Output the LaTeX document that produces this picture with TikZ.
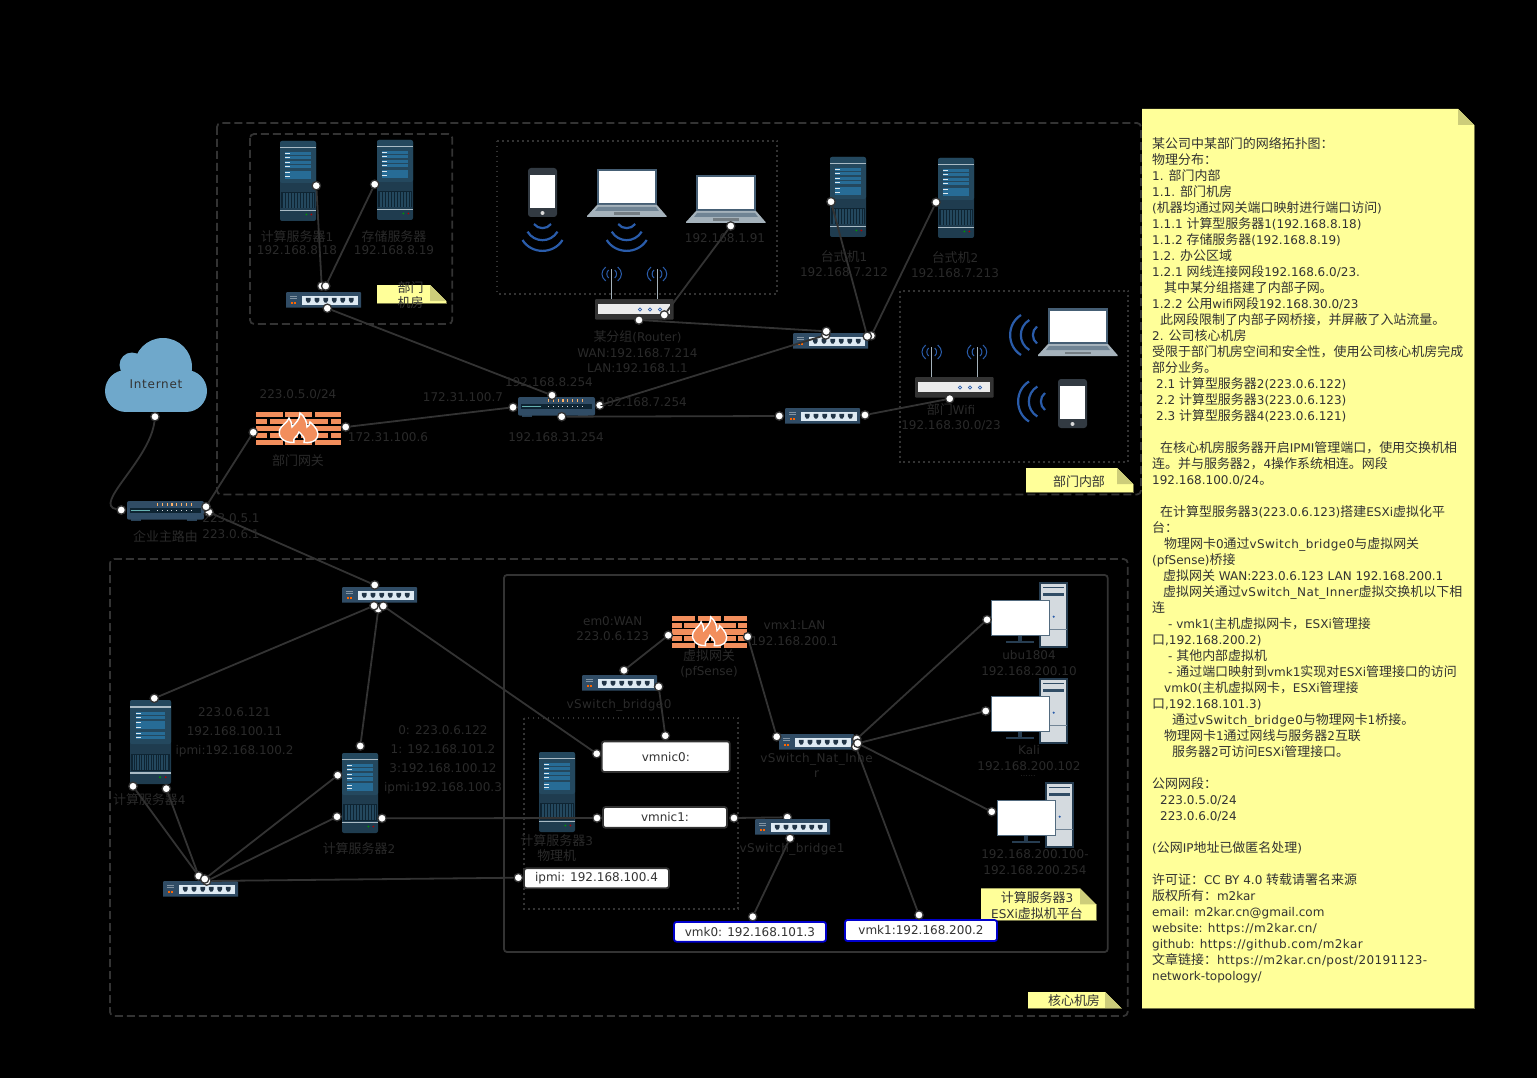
\documentclass[tikz,border=0pt]{standalone}
\usepackage{fontspec}
\setmainfont{DejaVu Sans}
\newfontfamily\cjkf[Scale=1.08]{Noto Sans CJK SC}
\XeTeXinterchartokenstate=1
\newXeTeXintercharclass\cjkclass
\newcount\cjkcnt
\cjkcnt="4E00 \loop\XeTeXcharclass\cjkcnt=\cjkclass \advance\cjkcnt by 1 \ifnum\cjkcnt<"A000 \repeat
\cjkcnt="3000 \loop\XeTeXcharclass\cjkcnt=\cjkclass \advance\cjkcnt by 1 \ifnum\cjkcnt<"3040 \repeat
\cjkcnt="FF00 \loop\XeTeXcharclass\cjkcnt=\cjkclass \advance\cjkcnt by 1 \ifnum\cjkcnt<"FFF0 \repeat
\XeTeXinterchartoks 0 \cjkclass={\cjkf}
\XeTeXinterchartoks 4095 \cjkclass={\cjkf}
\XeTeXinterchartoks \cjkclass 0={\rmfamily}
\XeTeXinterchartoks \cjkclass 4095={\rmfamily}
\normallineskiplimit=-20pt
\lineskiplimit=-20pt
\newcommand{\ls}[1]{{\addfontfeature{LetterSpace=3.5}#1}}
\usepackage{tikz}
\definecolor{inkgrey}{RGB}{51,51,51}
\definecolor{dimgrey}{RGB}{42,42,42}
\definecolor{notefill}{RGB}{255,255,153}
\definecolor{notefold}{RGB}{205,205,122}
\definecolor{srvbody}{RGB}{31,60,79}
\definecolor{srvtop}{RGB}{36,72,94}
\definecolor{srvbar}{RGB}{39,108,150}
\definecolor{srvgrille}{RGB}{14,36,50}
\definecolor{srvline}{RGB}{170,187,197}
\definecolor{swbody}{RGB}{48,76,101}
\definecolor{swpanel}{RGB}{222,234,243}
\definecolor{brick}{RGB}{242,142,92}
\definecolor{wavesblue}{RGB}{42,92,170}
\definecolor{cloudblue}{RGB}{111,168,203}
\definecolor{kbgrey}{RGB}{165,178,187}
\definecolor{pcgrey}{RGB}{212,218,223}
\newcommand{\stickynote}[5]{
    \fill[notefill] (#1,#2) -- ({#3-#5},#2) -- (#3,{#2+#5}) -- (#3,#4) -- (#1,#4) -- cycle;
    \fill[notefold] ({#3-#5},#2) -- (#3,{#2+#5}) -- ({#3-#5},{#2+#5}) -- cycle;
    \draw[notefill!45!black, line width=.8] (#3,{#2+#5}) -- (#3,#4) -- (#1,#4);
}
\tikzset{
    server/.pic={
        \fill[srvbody, rounded corners=2] (0,0) rectangle (36,80);
        \fill[srvtop, rounded corners=2] (0,0) rectangle (36,42);
        \fill[srvline] (0,6) rectangle (36,7.3);
        \foreach \barY in {11,14.9,20,24.1,30.3,34.2} {
            \fill[srvbar] (5,\barY) rectangle (31,\barY+3.4);
            \fill[white!85!srvbar] (5,\barY+1.2) rectangle (10,\barY+2.2);
        }
        \fill[srvgrille] (1,51) rectangle (35,67.5);
        \foreach \barX in {3,4.5,...,33}
            \draw[srvtop, line width=.5] (\barX,52) -- (\barX,67);
        \fill[srvline] (0,68.7) rectangle (36,70);
        \fill[green!60!black] (26.3,73.5) circle (1);
        \fill[red!70!black] (31.3,73.5) circle (1);
    },
    netswitch/.pic={
        \fill[swbody] (0,1) -- (1,0) -- (74,0) -- (75,1) -- (75,15.5) -- (0,15.5) -- cycle;
        \fill[swpanel] (16.3,4.3) rectangle (71.7,12.7);
        \foreach \portX in {22.3,31,39.7,48.3,56.7,65.3}
            \fill[swbody!70!black] (\portX-2.4,5.8) -- (\portX+2.4,5.8) -- (\portX+2.4,8.3) -- (\portX+1,10.6) -- (\portX-1,10.6) -- (\portX-2.4,8.3) -- cycle;
        \fill[orange!80!red] (4.8,10) rectangle (6.6,11.6);
        \fill[orange!80!red] (8.4,10) rectangle (10.2,11.6);
        \draw[white!40!swbody, line width=.4] (4,4.5) -- (11,4.5) (4,6.5) -- (11,6.5);
    },
    rackrouter/.pic={
        \fill[swbody!85!black] (4,18) rectangle (14,19.5);
        \fill[swbody!85!black] (60,18) rectangle (70,19.5);
        \fill[swbody, rounded corners=2] (0,0) rectangle (77,18.7);
        \fill[srvgrille] (3,7.3) rectangle (74,12);
        \fill[teal!60!white] (4,9.2) rectangle (23,10.2);
        \foreach \tickX in {30,34.8,...,65} {
            \fill[orange!60!white] (\tickX,1.5) rectangle (\tickX+1.2,4.6);
            \fill[white!80!swbody] (\tickX,9.2) rectangle (\tickX+1,10.2);
        }
    },
    brickwall/.pic={
        \foreach \rowY in {0,13.8,27.6} {
            \fill[brick] (0,\rowY) rectangle (26.5,\rowY+5.4);
            \fill[brick] (29,\rowY) rectangle (56,\rowY+5.4);
            \fill[brick] (58.5,\rowY) rectangle (85,\rowY+5.4);
        }
        \foreach \rowY in {6.9,20.7} {
            \fill[brick] (0,\rowY) rectangle (11,\rowY+5.4);
            \fill[brick] (14,\rowY) rectangle (42,\rowY+5.4);
            \fill[brick] (44.5,\rowY) rectangle (72,\rowY+5.4);
            \fill[brick] (74.5,\rowY) rectangle (85,\rowY+5.4);
        }
        \fill[brick, draw=white, line width=1.4] (38,30.5) .. controls (28,31) and (21,25) .. (24,17) .. controls (26,13) and (31,11) .. (33,6) .. controls (35,9) and (36,12) .. (36,15) .. controls (40,11) and (44,7) .. (44,1) .. controls (49,5) and (51,10) .. (51,15) .. controls (53,14) and (54,12) .. (54,10) .. controls (60,15) and (64,21) .. (61,26) .. controls (59,30) and (53,31) .. (48,30.5) .. controls (50,26) and (46,23) .. (43,20) .. controls (42,24) and (36,26) .. (38,30.5) -- cycle;
    },
    wifirouter/.pic={
        \foreach \antX in {16.7,62} {
            \draw[kbgrey, line width=1] (\antX,0) -- (\antX,-30);
            \draw[wavesblue, line width=1]
                (\antX-3,-29) .. controls (\antX-5.5,-27) and (\antX-5.5,-23) .. (\antX-3,-21)
                (\antX+3,-29) .. controls (\antX+5.5,-27) and (\antX+5.5,-23) .. (\antX+3,-21)
                (\antX-6,-32) .. controls (\antX-11,-28) and (\antX-11,-22) .. (\antX-6,-18)
                (\antX+6,-32) .. controls (\antX+11,-28) and (\antX+11,-22) .. (\antX+6,-18);
        }
        \fill[inkgrey, rounded corners=1] (0,0) rectangle (78.7,20.7);
        \fill[white!92!black] (3.3,5.3) rectangle (75.3,15.3);
        \foreach \dotX in {45,55,65}
            \draw[wavesblue, line width=.8] (\dotX,10.5) circle (1.6);
    },
    laptop/.pic={
        \fill[swbody!90!white] (10,0) rectangle (70,36);
        \fill[white] (12,2.5) rectangle (68,34);
        \fill[kbgrey] (10,36) -- (70,36) -- (79.5,47) -- (79.5,48) -- (0,48) -- (0,47) -- cycle;
        \fill[swbody!45!kbgrey] (11,38) -- (69,38) -- (72,42) -- (8,42) -- cycle;
        \fill[kbgrey!70!black] (27,43.5) rectangle (53,46);
    },
    handset/.pic={
        \fill[inkgrey!70!swbody, rounded corners=3] (0,0) rectangle (29,49);
        \fill[white] (2,7) rectangle (27,40);
        \fill[white!85!black] (14.5,45) circle (2);
    },
    wifiwaves/.pic={
        \draw[wavesblue, line width=2.2]
            (-8.5,1) .. controls (-4.5,6.5) and (4.5,6.5) .. (8.5,1)
            (-15,8.7) .. controls (-8,20) and (8,20) .. (15,8.7)
            (-20,17) .. controls (-11,31.5) and (11,31.5) .. (20,17);
    },
    desktoppc/.pic={
        \fill[pcgrey, draw=swbody!80!black, line width=1.2] (49,0) rectangle (76,64);
        \draw[swbody, line width=.8] (52,4.5) -- (73,4.5);
        \fill[swbody] (52,10) rectangle (73,13);
        \draw[swbody!60!pcgrey, line width=.6] (49,46) -- (76,46);
        \fill[wavesblue] (62.7,33.7) circle (1.2);
        \fill[swbody!80!black] (26.5,52.7) rectangle (31,58);
        \fill[swbody!80!black] (15,58) rectangle (43,59.5);
        \fill[white, draw=swbody!70!kbgrey, line width=1] (0,17.3) rectangle (58,52.7);
    }
}
\begin{document}
\begin{tikzpicture}[
            x=1pt, y=-1pt,
            lbl/.style={inner sep=0, align=center, text=dimgrey, font=\fontsize{12}{15.6}\selectfont},
            darklbl/.style={lbl, text=inkgrey},
            tightlbl/.style={lbl, font=\fontsize{12}{13}\selectfont},
            widelbl/.style={lbl, font=\fontsize{12}{19}\selectfont},
            port/.style={circle, fill=white, draw=inkgrey, line width=1.3, minimum size=8.4, inner sep=0},
            link/.style={draw=inkgrey, line width=1.8},
            dashframe/.style={draw=inkgrey, line width=1.8, dash pattern=on 8pt off 4pt, rounded corners=4},
            dotframe/.style={draw=inkgrey, line width=1.8, dash pattern=on 1.8pt off 3.2pt},
            nicbox/.style={draw=inkgrey, fill=white, line width=1.8, rounded corners=2.5, inner sep=0, anchor=center, text=inkgrey, font=\fontsize{12}{14}\selectfont},
            vmkbox/.style={nicbox, draw=blue!80!black}
        ]
            \useasboundingbox (0,0) rectangle (1537,1078);
            \fill[black] (0,0) rectangle (1537,1078);

            % frames
            \draw[dashframe] (217,123) rectangle (1141,494.5);
            \draw[dashframe] (250,134) rectangle (452.3,324);
            \draw[dotframe] (497,140.7) rectangle (777.3,293.7);
            \draw[dotframe] (900,290.7) rectangle (1128.3,462.3);
            \draw[dashframe] (110,559) rectangle (1127.7,1016);
            \draw[inkgrey, line width=1.8, rounded corners=3] (504,575) rectangle (1107.7,952);
            \draw[dotframe] (524.3,717.7) rectangle (738,909);

            % notes
            \stickynote{1142}{109}{1474}{1008}{16}
            \stickynote{377}{285}{446}{303.7}{16}
            \stickynote{1026}{468}{1133}{492}{16}
            \stickynote{1028}{992}{1121}{1008.3}{16}
            \stickynote{981}{888.3}{1096}{920.7}{16}

            % cloud
            \fill[cloudblue] (163,367) circle (29);
            \fill[cloudblue] (132,365) circle (12.5);
            \fill[cloudblue] (126,391) circle (21);
            \fill[cloudblue] (186,391) circle (21);
            \fill[cloudblue] (126,372) rectangle (186,412);

            \node[port] (bronetop) at (787.3,817.3) {};
            \node[port] (swonehid) at (321.7,286) {};

            % devices
            \pic (srvone) at (280,141) {server};
            \pic (srvstore) at (377,140) {server};
            \pic (pcone) at (830,157) {server};
            \pic (pctwo) at (938,158) {server};
            \pic[xscale=1.14, yscale=1.05] (srvfour) at (130,700) {server};
            \pic (srvtwo) at (342,753) {server};
            \pic (srvthree) at (539,752) {server};

            \pic (swone) at (286,292) {netswitch};
            \pic (swtwo) at (793,333) {netswitch};
            \pic (swthree) at (785,408) {netswitch};
            \pic (swcore) at (342,587) {netswitch};
            \pic (swipmi) at (163,881) {netswitch};
            \pic (brzero) at (582,675) {netswitch};
            \pic (swnat) at (779,734) {netswitch};
            \pic (brone) at (755,819) {netswitch};

            \pic (rtmain) at (127,501) {rackrouter};
            \pic (rtdept) at (518,397) {rackrouter};
            \pic (fwdept) at (256,412) {brickwall};
            \pic[xscale=.882, yscale=.97] (fwvirt) at (672,616) {brickwall};
            \pic (wrgroup) at (595,299) {wifirouter};
            \pic (wrdept) at (915,377) {wifirouter};

            \pic (lapone) at (587,169) {laptop};
            \pic (laptwo) at (686,175) {laptop};
            \pic (lapthree) at (1038,308) {laptop};
            \pic (phoneone) at (528,168) {handset};
            \pic (phonetwo) at (1058,379) {handset};
            \pic at (542.5,223) {wifiwaves};
            \pic at (626.7,223) {wifiwaves};
            \pic[rotate=-90] at (1038,335) {wifiwaves};
            \pic[rotate=-90] at (1046,401.5) {wifiwaves};

            \pic (vmone) at (991,583) {desktoppc};
            \pic (vmtwo) at (991,679) {desktoppc};
            \pic (vmthree) at (997,783) {desktoppc};

            % boxes
            \node[nicbox, minimum width=128, minimum height=30.7] (vmniczero) at (665.8,756.7) {vmnic0:};
            \node[nicbox, minimum width=124, minimum height=20.7] (vmnicone) at (665,817.4) {vmnic1:};
            \node[nicbox, minimum width=145, minimum height=20] (ipmibox) at (596.5,878.3) {ipmi: 192.168.100.4};
            \node[vmkbox, minimum width=152, minimum height=19.7] (vmkzero) at (750,931.8) {vmk0: 192.168.101.3};
            \node[vmkbox, minimum width=152, minimum height=21] (vmkone) at (921,930.5) {vmk1:192.168.200.2};

            % ports
            \node[port] (srvoneR) at (316.3,185.7) {};
            \node[port] (srvstoreL) at (374.7,184.3) {};
            \node[port] (swonetop) at (325.7,286) {};
            \node[port] (swonebot) at (327.3,308.3) {};
            \node[port] (rtdeptT) at (552,395.3) {};
            \node[port] (rtdeptL) at (513,407.3) {};
            \node[port] (rtdeptR) at (599.7,405.3) {};
            \node[port] (rtdeptB) at (561.7,416.7) {};
            \node[port] (fwdeptL) at (253.3,432.3) {};
            \node[port] (fwdeptR) at (345.7,427) {};
            \node[port] (wrgroupB) at (639,320) {};
            \node[port] (wrgroupR) at (664.3,315) {};
            \node[port] (laptwoB) at (730.7,226) {};
            \node[port] (swtwoin) at (825.7,335) {};
            \node[port] (swtwotop) at (826.3,331.3) {};
            \node[port] (swtwoout) at (871.3,335.7) {};
            \node[port] (swtwoR) at (867.3,336.3) {};
            \node[port] (pconeL) at (831,201.7) {};
            \node[port] (pctwoL) at (936,202.3) {};
            \node[port] (swthreeL) at (779.3,416) {};
            \node[port] (swthreeR) at (865,415) {};
            \node[port] (wrdeptB) at (949.7,398.7) {};
            \node[port] (cloudB) at (155,416.7) {};
            \node[port] (rtmainL) at (121.3,510) {};
            \node[port] (rtmainlow) at (209,512.3) {};
            \node[port] (rtmainR) at (206,506.7) {};
            \node[port] (swcoreT) at (374.7,585) {};
            \node[port] (swcoremid) at (378.3,609) {};
            \node[port] (swcoreL) at (374,605.7) {};
            \node[port] (swcoreR) at (383.3,606) {};
            \node[port] (srvfourT) at (154.3,698.3) {};
            \node[port] (srvfourA) at (133,786.3) {};
            \node[port] (srvfourB) at (166.3,788.7) {};
            \node[port] (srvtwoT) at (360.3,746) {};
            \node[port] (srvtwoA) at (337.7,775.3) {};
            \node[port] (srvtwoB) at (337,816.7) {};
            \node[port] (srvtwoR) at (382,818.3) {};
            \node[port] (swipmiC) at (206.7,881) {};
            \node[port] (swipmiA) at (198.7,876) {};
            \node[port] (swipmiB) at (204.7,879) {};
            \node[port] (ipmiL) at (518.3,877.7) {};
            \node[port] (vmniczeroL) at (596.7,753.7) {};
            \node[port] (vmniczeroT) at (665.3,735.7) {};
            \node[port] (vmniconeL) at (597,818) {};
            \node[port] (vmniconeR) at (734,818) {};
            \node[port] (broneB) at (790,838.3) {};
            \node[port] (vmkzeroT) at (752.7,916.7) {};
            \node[port] (brzeroT) at (624,670.3) {};
            \node[port] (brzeroR) at (658.7,686.7) {};
            \node[port] (fwvirtL) at (668.3,635.3) {};
            \node[port] (fwvirtR) at (747.7,636.7) {};
            \node[port] (swnatL) at (776.7,736.7) {};
            \node[port] (swnatlow) at (855.7,746.7) {};
            \node[port] (swnatR) at (856.7,739) {};
            \node[port] (swnatM) at (857.7,743.3) {};
            \node[port] (vmoneL) at (987,619.7) {};
            \node[port] (vmtwoL) at (985.7,711) {};
            \node[port] (vmthreeL) at (991.7,811.7) {};
            \node[port] (vmkoneT) at (919,915) {};

            % connectors
            \draw[link] (srvoneR) -- (swonehid);
            \draw[link] (srvstoreL) -- (swonetop);
            \draw[link] (swonebot) -- (rtdeptT);
            \draw[link] (fwdeptR) -- (rtdeptL);
            \draw[link] (rtdeptR) -- (swtwoin);
            \draw[link] (wrgroupB) -- (swtwotop);
            \draw[link] (wrgroupR) -- (laptwoB);
            \draw[link] (rtdeptB) -- (swthreeL);
            \draw[link] (swthreeR) -- (wrdeptB);
            \draw[link] (pconeL) -- (swtwoR);
            \draw[link] (pctwoL) -- (swtwoout);
            \draw[link] (cloudB) .. controls (150,460) and (92,505) .. (rtmainL);
            \draw[link] (rtmainR) -- (fwdeptL);
            \draw[link] (rtmainlow) -- (swcoreT);
            \draw[link] (swcoreL) -- (srvfourT);
            \draw[link] (swcoremid) -- (srvtwoT);
            \draw[link] (swcoreR) -- (vmniczeroL);
            \draw[link] (srvfourA) -- (swipmiA);
            \draw[link] (srvfourB) -- (swipmiA);
            \draw[link] (srvtwoA) -- (swipmiB);
            \draw[link] (srvtwoB) -- (swipmiC);
            \draw[link] (swipmiC) -- (ipmiL);
            \draw[link] (srvtwoR) -- (vmniconeL);
            \draw[link] (vmniconeR) -- (bronetop);
            \draw[link] (broneB) -- (vmkzeroT);
            \draw[link] (brzeroT) -- (fwvirtL);
            \draw[link] (brzeroR) -- (vmniczeroT);
            \draw[link] (fwvirtR) -- (swnatL);
            \draw[link] (swnatR) -- (vmoneL);
            \draw[link] (swnatM) -- (vmtwoL);
            \draw[link] (swnatM) -- (vmthreeL);
            \draw[link] (swnatlow) -- (vmkoneT);

            % labels
            \node[darklbl] (internet) at (156,384) {\addfontfeature{LetterSpace=6}Internet};
            \node[tightlbl] (lblsrvone) at (297,243) {计算服务器1\\192.168.8.18};
            \node[tightlbl] (lblstore) at (394,242.5) {存储服务器\\192.168.8.19};
            \node[lbl] (lbllaptwo) at (725,238) {192.168.1.91};
            \node[lbl] (lblgroup) at (637.5,352) {某分组(Router)\\WAN:192.168.7.214\\LAN:192.168.1.1};
            \node[lbl] (lblrta) at (549,382) {192.168.8.254};
            \node[lbl] (lblrtb) at (463,397) {172.31.100.7};
            \node[lbl] (lblrtc) at (643,402) {192.168.7.254};
            \node[lbl] (lblrtd) at (556,437) {192.168.31.254};
            \node[lbl] (lblfwa) at (388,437) {172.31.100.6};
            \node[lbl] (lblfwb) at (298,395) {223.0.5.0/24};
            \node[lbl] (lblfwc) at (298,461) {部门网关};
            \node[lbl] (lblpcone) at (844,263.5) {台式机1\\192.168.7.212};
            \node[lbl] (lblpctwo) at (955,264.5) {台式机2\\192.168.7.213};
            \node[lbl] (lblwifi) at (951,417) {部门Wifi\\192.168.30.0/23};
            \node[lbl] (lblmain) at (165.5,536.7) {企业主路由};
            \node[lbl] (lblmainip) at (231,526) {223.0.5.1\\223.0.6.1};
            \node[widelbl] (lblsrvfourip) at (234.5,732.3) {223.0.6.121\\192.168.100.11\\ipmi:192.168.100.2};
            \node[lbl] (lblsrvfour) at (149.3,800) {计算服务器4};
            \node[widelbl] (lblsrvtwoip) at (443,759.7) {0: 223.0.6.122\\1: 192.168.101.2\\3:192.168.100.12\\ipmi:192.168.100.3};
            \node[lbl] (lblsrvtwo) at (359,848.7) {计算服务器2};
            \node[lbl] (lblwan) at (612.7,628.5) {em0:WAN\\223.0.6.123};
            \node[lbl] (lblvfw) at (709,663.8) {虚拟网关\\(pfSense)};
            \node[lbl] (lbllan) at (794.5,633) {vmx1:LAN\\192.168.200.1};
            \node[lbl] (lblbrzero) at (619,705.7) {\ls{vSwitch\_bridge0}};
            \node[lbl] (lblnat) at (816.5,765.5) {\ls{vSwitch\_Nat\_Inne}\\r};
            \node[lbl] (lblsrvthree) at (556.7,848) {计算服务器3\\物理机};
            \node[lbl] (lblbrone) at (792,849) {\ls{vSwitch\_bridge1}};
            \node[lbl] (lblubu) at (1029,663.3) {ubu1804\\192.168.200.10};
            \node[lbl] (lblkali) at (1029,758) {Kali\\192.168.200.102};
            \node[lbl, font=\fontsize{8}{10}\selectfont] (lbldots) at (1028,776) {......};
            \node[lbl] (lblrange) at (1035,862) {192.168.200.100-\\192.168.200.254};
            \node[darklbl] (ntroom) at (410.7,295) {部门\\机房};
            \node[darklbl] (ntdept) at (1079,481.7) {部门内部};
            \node[darklbl] (ntcore) at (1074,1000.7) {核心机房};
            \node[darklbl] (ntesxi) at (1037,905.3) {计算服务器3\\ESXi虚拟机平台};

            \node[darklbl, anchor=north west, align=left, font=\fontsize{12}{16}\selectfont] (ntmain) at (1152,137) {某公司中某部门的网络拓扑图：\\
物理分布：\\
1. 部门内部\\
1.1. 部门机房\\
(机器均通过网关端口映射进行端口访问)\\
1.1.1 计算型服务器1(192.168.8.18)\\
1.1.2 存储服务器(192.168.8.19)\\
1.2. 办公区域\\
1.2.1 网线连接网段192.168.6.0/23.\\
\hspace*{12pt}其中某分组搭建了内部子网。\\
1.2.2 公用wifi网段192.168.30.0/23\\
\hspace*{8pt}此网段限制了内部子网桥接，并屏蔽了入站流量。\\
2. 公司核心机房\\
受限于部门机房空间和安全性，使用公司核心机房完成\\
部分业务。\\
\hspace*{4pt}2.1 计算型服务器2(223.0.6.122)\\
\hspace*{4pt}2.2 计算型服务器3(223.0.6.123)\\
\hspace*{4pt}2.3 计算型服务器4(223.0.6.121)\\
~\\
\hspace*{8pt}在核心机房服务器开启IPMI管理端口，使用交换机相\\
连。并与服务器2，4操作系统相连。网段\\
192.168.100.0/24。\\
~\\
\hspace*{8pt}在计算型服务器3(223.0.6.123)搭建ESXi虚拟化平\\
台：\\
\hspace*{12pt}物理网卡0通过\ls{vSwitch\_bridge0}与虚拟网关\\
(pfSense)桥接\\
\hspace*{11pt}虚拟网关 WAN:223.0.6.123 LAN 192.168.200.1\\
\hspace*{11pt}虚拟网关通过\ls{vSwitch\_Nat\_Inner}虚拟交换机以下相\\
连\\
\hspace*{16pt}- vmk1(主机虚拟网卡，ESXi管理接\\
口,192.168.200.2)\\
\hspace*{16pt}- 其他内部虚拟机\\
\hspace*{16pt}- 通过端口映射到vmk1实现对ESXi管理接口的访问\\
\hspace*{12pt}vmk0(主机虚拟网卡，ESXi管理接\\
口,192.168.101.3)\\
\hspace*{20pt}通过\ls{vSwitch\_bridge0}与物理网卡1桥接。\\
\hspace*{12pt}物理网卡1通过网线与服务器2互联\\
\hspace*{20pt}服务器2可访问ESXi管理接口。\\
~\\
公网网段：\\
\hspace*{8pt}223.0.5.0/24\\
\hspace*{8pt}223.0.6.0/24\\
~\\
(公网IP地址已做匿名处理)\\
~\\
许可证：CC BY 4.0 转载请署名来源\\
版权所有：m2kar\\
email: m2kar.cn@gmail.com\\
website: \ls{https://m2kar.cn/}\\
github: \ls{https://github.com/m2kar}\\
文章链接：\ls{https://m2kar.cn/post/20191123-}\\
network-topology/};
        \end{tikzpicture}
\end{document}
